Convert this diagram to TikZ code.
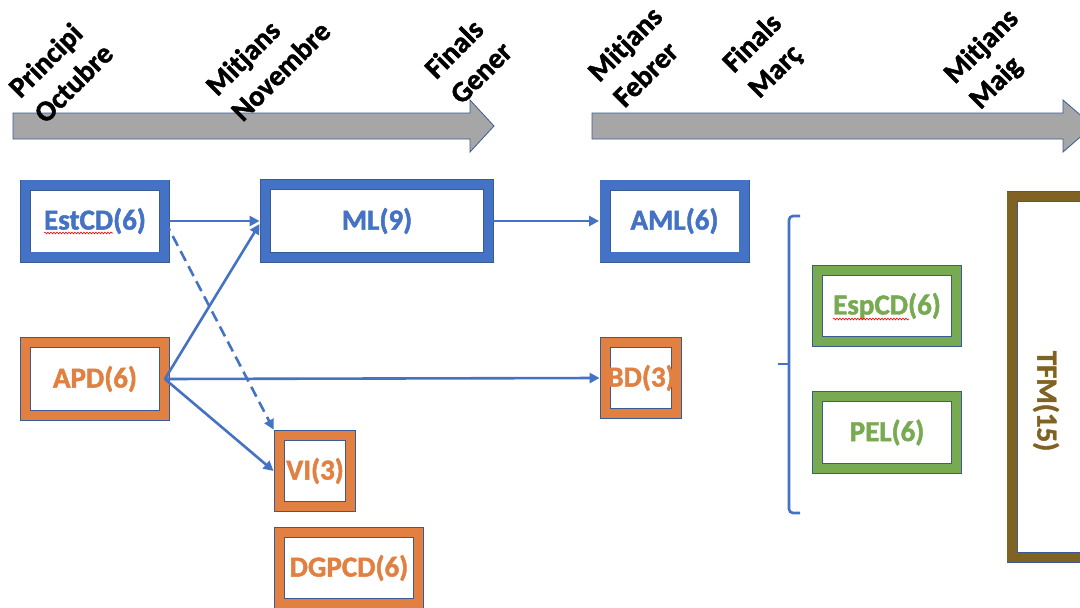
\documentclass[tikz,border=0pt]{standalone}
\usepackage{fontspec}
\setmainfont{Carlito}[BoldFont={Carlito Bold}, BoldFeatures={FakeBold=1.6}]
\usetikzlibrary{arrows.meta,decorations.pathmorphing,calc}
\definecolor{cblue}{RGB}{68,114,196}
\definecolor{corange}{RGB}{226,128,66}
\definecolor{cgreen}{RGB}{120,170,82}
\definecolor{cbrown}{RGB}{128,98,34}
\definecolor{cgray}{RGB}{166,166,166}
\definecolor{cedge}{RGB}{58,90,150}
\newcommand{\labfont}{\fontsize{29}{36}\selectfont\bfseries}
\begin{document}
\begin{tikzpicture}[x=1pt,y=-1pt,
  course/.style={draw=cedge, line width=0.8pt, double=#1, double distance=9.4pt,
    fill=white, text=#1, inner sep=0pt, font=\labfont},
  tag/.style={text=#1, inner sep=0pt, font=\labfont},
  timeband/.style={draw=cedge, line width=0.8pt, fill=cgray},
  when/.style={rotate=45, anchor=south west, inner sep=0pt, align=left, font=\labfont},
  link/.style={draw=cblue, line width=2.6pt, -{Triangle[length=10pt,width=10pt]}},
  squiggle/.style={draw=red, line width=0.6pt, decorate,
    decoration={snake, amplitude=0.9pt, segment length=3pt}}]
\useasboundingbox (0,0) rectangle (1080,608);

% time bands
\draw[timeband] (13,113) -- (470,113) -- (470,100) -- (494,126) -- (470,152)
  -- (470,139) -- (13,139) -- cycle;
\draw[timeband] (592,113) -- (1063,113) -- (1063,100) -- (1093,126) -- (1063,152)
  -- (1063,139) -- (592,139) -- cycle;

% milestones
\node[when] (t1) at (46,125) {Principi\\Octubre};
\node[when] (t2) at (243,123) {Mitjans\\Novembre};
\node[when] (t3) at (462,106) {Finals\\Gener};
\node[when] (t4) at (625,109) {Mitjans\\Febrer};
\node[when] (t5) at (763,103) {Finals\\Març};
\node[when] (t6) at (984,114) {Mitjans\\Maig};

% courses (centre, size = outer size minus 11)
\node[course=cblue, minimum width=139pt, minimum height=72pt] (estcd) at (95,221) {EstCD(6)};
\node[course=cblue, minimum width=223pt, minimum height=73pt] (ml) at (377,221) {ML(9)};
\node[course=cblue, minimum width=139pt, minimum height=72pt] (aml) at (674.5,221) {AML(6)};
\node[course=corange, minimum width=139pt, minimum height=73pt] (apd) at (95,379) {APD(6)};
\node[course=corange, minimum width=71pt, minimum height=71pt] (bd) at (641,378) {};
\node[tag=corange] (bdl) at (bd.center) {BD(3)};
\node[course=corange, minimum width=71pt, minimum height=71pt] (vi) at (315,471) {};
\node[tag=corange] (vil) at (vi.center) {VI(3)};
\node[course=corange, minimum width=139pt, minimum height=71pt] (dgpcd) at (349,568) {DGPCD(6)};
\node[course=cgreen, minimum width=139pt, minimum height=71pt] (espcd) at (887,306) {EspCD(6)};
\node[course=cgreen, minimum width=139pt, minimum height=72pt] (pel) at (887,432.5) {PEL(6)};
\node[course=cbrown, minimum width=100pt, minimum height=361pt] (tfm) at (1062,377) {};
\node[tag=cbrown, rotate=-90] (tfml) at (1046,401) {TFM(15)};

% spelling marks
\draw[squiggle] (44,233) -- (113,233);
\draw[squiggle] (833,319) -- (909,319);

% prerequisites
\draw[link] (estcd.east) -- ($(ml.west)+(-5.5,0)$);
\draw[link] (apd.east) -- ($(ml.west)+(-5.5,3)$);
\draw[link, dash pattern=on 11pt off 6pt] (estcd.east) -- ($(vi.north west)+(-5.5,-5.5)$);
\draw[link] (apd.east) -- ($(vi.west)+(-5.5,0)$);
\draw[link] (apd.east) -- ($(bd.west)+(-5.5,0)$);
\draw[link] (ml.east) -- ($(aml.west)+(-5.5,0)$);

% optional block bracket
\coordinate (brtop) at (800,216);
\coordinate (brmid) at (778,364);
\coordinate (brbot) at (800,513);
\draw[cblue, line width=2.6pt, rounded corners=4pt]
  (brtop) -- (789,216) -- (789,513) -- (brbot);
\draw[cblue, line width=2.6pt] (brmid) -- (789,364);
\end{tikzpicture}
\end{document}
